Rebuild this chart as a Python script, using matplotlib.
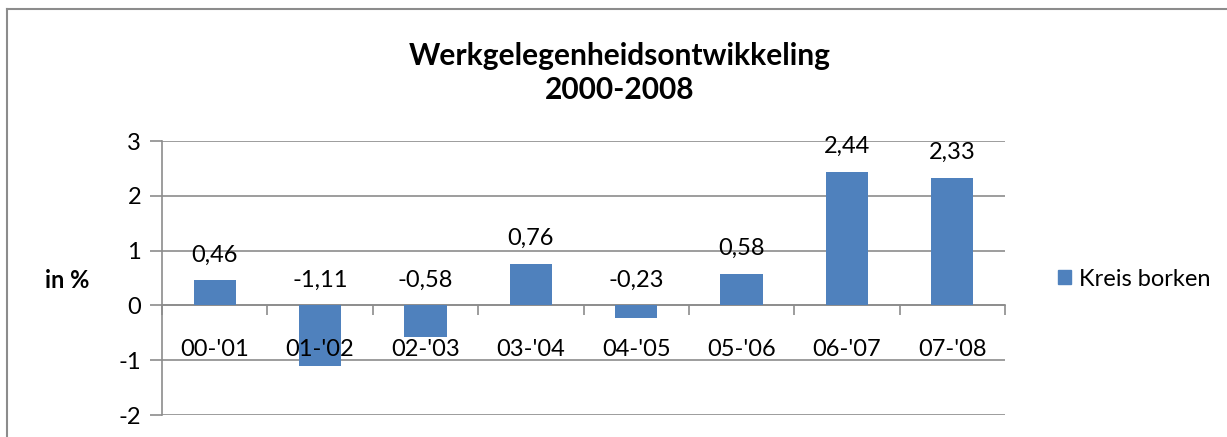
import matplotlib.pyplot as plt
from matplotlib.patches import Patch
from matplotlib.lines import Line2D

categories = ["00-'01", "01-'02", "02-'03", "03-'04", "04-'05", "05-'06", "06-'07", "07-'08"]
values = [0.46, -1.11, -0.58, 0.76, -0.23, 0.58, 2.44, 2.33]
series_name = "Kreis borken"
title = "Werkgelegenheidsontwikkeling\n2000-2008"

plt.rcParams['font.family'] = ['Lato', 'DejaVu Sans']

W, H = 1227, 437
fig = plt.figure(figsize=(W / 100, H / 100), dpi=100)

# chart frame (only left and top edges are in view)
grey = '#8c8c8c'
fig.add_artist(Line2D([7 / W, 7 / W], [0, 1 - 9 / H], color=grey, lw=1.5, transform=fig.transFigure))
fig.add_artist(Line2D([7 / W, 1], [1 - 9 / H, 1 - 9 / H], color=grey, lw=1.5, transform=fig.transFigure))

left, right, top, bottom = 162, 1005, 141, 415
ax = fig.add_axes([left / W, 1 - bottom / H, (right - left) / W, (bottom - top) / H])

x = range(len(categories))
bars = ax.bar(x, values, width=0.4, color='#4f81bd', zorder=3, label=series_name)

ax.set_xlim(-0.5, len(categories) - 0.5)
ax.set_ylim(-2, 3)
ax.set_yticks(range(-2, 4))
ax.set_yticklabels([str(v) for v in range(-2, 4)], fontsize=17)
ax.yaxis.grid(True, color=grey, lw=1.2, zorder=0)
ax.tick_params(axis='y', length=9, color=grey, width=1.2, pad=6)

for s in ['top', 'right']:
    ax.spines[s].set_visible(False)
ax.spines['left'].set_color(grey)
ax.spines['left'].set_linewidth(1.2)
ax.spines['bottom'].set_position(('data', 0))
ax.spines['bottom'].set_color(grey)
ax.spines['bottom'].set_linewidth(1.2)

ax.set_xticks(list(x))
ax.set_xticklabels(categories, fontsize=17)
ax.tick_params(axis='x', which='major', length=0, pad=24)
ax.set_xticks([i - 0.5 for i in range(len(categories) + 1)], minor=True)
ax.tick_params(axis='x', which='minor', length=7, color=grey, width=1.2)
ax.xaxis.set_zorder(4)

for b, v in zip(bars, values):
    base = max(v, 0)
    ax.annotate(f"{v:.2f}".replace('.', ','), (b.get_x() + b.get_width() / 2, base),
                xytext=(0, 18 if v > 0 else 18), textcoords='offset points',
                ha='center', va='center', fontsize=17)

fig.text(620 / W, 1 - 73 / H, title, ha='center', va='center', fontsize=21.5,
         fontweight='bold', linespacing=1.3)
fig.text(67 / W, 1 - 280 / H, 'in %', ha='center', va='center', fontsize=17, fontweight='bold')

fig.legend(handles=[Patch(color='#4f81bd', label=series_name)], loc='center left',
           bbox_to_anchor=(1046 / W, 1 - 279 / H), frameon=False, fontsize=17,
           handlelength=0.55, handleheight=0.55, handletextpad=0.35, borderpad=0)

fig.savefig('out.png', dpi=100)
